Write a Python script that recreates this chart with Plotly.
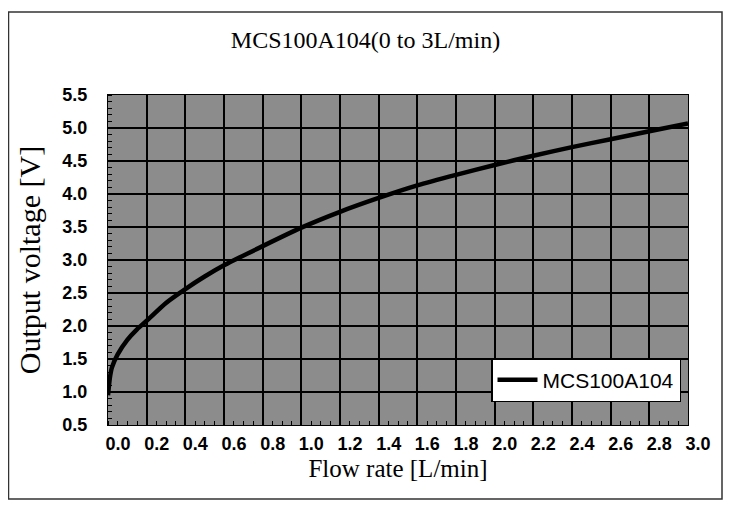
import plotly.graph_objects as go

flow = [0, 0.01, 0.02, 0.05, 0.1, 0.15, 0.2, 0.3, 0.4, 0.5, 0.6, 0.8, 1.0, 1.2, 1.4, 1.6, 1.8, 2.0, 2.2, 2.4, 2.6, 2.8, 3.0]
voltage = [0.95, 1.22, 1.37, 1.57, 1.79, 1.95, 2.08, 2.35, 2.56, 2.75, 2.92, 3.21, 3.49, 3.73, 3.94, 4.13, 4.29, 4.44, 4.58, 4.71, 4.83, 4.95, 5.07]
x_ticks = [round(i * 0.2, 1) for i in range(16)]
y_ticks = [0.5 + 0.5 * i for i in range(11)]

W, H = 715, 495
L, R, T, B = 100, 35, 87, 78
pw, ph = W - L - R, H - T - B

fig = go.Figure()
fig.add_trace(go.Scatter(x=flow, y=voltage, mode="lines", name="MCS100A104",
                         line=dict(color="black", width=4.5, shape="spline", smoothing=0.6)))

fig.update_layout(
    width=W, height=H,
    margin=dict(l=L, r=R, t=T, b=B, autoexpand=False),
    paper_bgcolor="white",
    plot_bgcolor="#8c8c8c",
    title=dict(text="MCS100A104(0 to 3L/min)", x=0.5, xanchor="center", y=1 - 32 / H, yanchor="middle",
               font=dict(family="Liberation Serif", size=24, color="black")),
    showlegend=True,
    legend=dict(x=(673 - L) / pw, xanchor="right", y=(H - B - 350) / ph, yanchor="top",
                bgcolor="white", bordercolor="black", borderwidth=1.5,
                font=dict(family="Liberation Sans", size=21, color="black"),
                tracegroupgap=0, itemwidth=40),
    xaxis=dict(range=[0, 3.0], tickvals=x_ticks, ticktext=[f"{v:.1f}" for v in x_ticks],
               showgrid=True, gridcolor="black", gridwidth=2, zeroline=False,
               showline=True, linecolor="black", linewidth=1, mirror=True,
               ticks="", ticklabelshift=10, ticklabelstandoff=2,
               tickfont=dict(family="Liberation Sans", size=18, color="black", weight="bold"),
               title=dict(text="Flow rate [L/min]", standoff=6,
                          font=dict(family="Liberation Serif", size=25, color="black")),
               minor=dict(ticks="inside", ticklen=4, tickcolor="black", dtick=0.05, showgrid=False)),
    yaxis=dict(range=[0.5, 5.5], tickvals=y_ticks, ticktext=[f"{v:.1f}" for v in y_ticks],
               showgrid=True, gridcolor="black", gridwidth=2, zeroline=False,
               showline=True, linecolor="black", linewidth=1, mirror=True,
               ticks="", ticklabelstandoff=16,
               tickfont=dict(family="Liberation Sans", size=18, color="black", weight="bold"),
               title=dict(text="Output voltage [V]", standoff=12,
                          font=dict(family="Liberation Serif", size=30, color="black")),
               minor=dict(ticks="inside", ticklen=4, tickcolor="black", dtick=0.1, showgrid=False)),
    shapes=[dict(type="rect", xref="paper", yref="paper", layer="below",
                 x0=(0.5 - L) / pw, x1=(714 - L) / pw, y0=(H - B - 491) / ph, y1=(H - B - 4) / ph,
                 line=dict(color="#333333", width=1.5), fillcolor="rgba(0,0,0,0)")],
)

fig.write_html("out.html")
